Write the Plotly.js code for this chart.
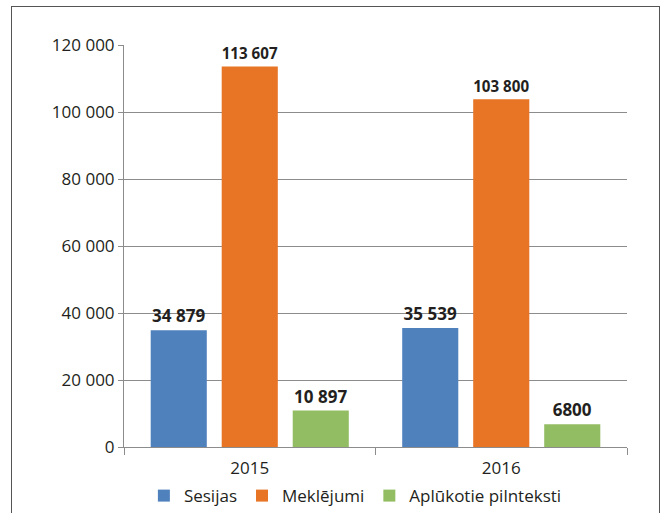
<!DOCTYPE html>
<html>
<head>
<meta charset="utf-8">
<script src="https://cdn.plot.ly/plotly-3.0.1.min.js"></script>
<style>
html,body{margin:0;padding:0;background:#fff;}
#wrap{position:relative;width:662px;height:513px;overflow:hidden;}
#frame{position:absolute;left:11px;top:6px;width:647px;height:540px;border:1.6px solid #555;pointer-events:none;}
#chart{position:absolute;left:0;top:0;width:662px;height:513px;}
</style>
</head>
<body>
<div id="wrap"><div id="chart"></div><div id="frame"></div></div>
<script>
const categories = ["2015", "2016"];
const seriesNames = ["Sesijas", "Meklējumi", "Aplūkotie pilnteksti"];
const sesijas = [34879, 35539];
const meklejumi = [113607, 103800];
const pilnteksti = [10897, 6800];
const sesijasLabels = ["34 879", "35 539"];
const meklejumiLabels = ["113 607", "103 800"];
const pilntekstiLabels = ["10 897", "6800"];
const colors = ["#4f81bd", "#e87425", "#93bd63"];

const txtFont = {family: "Open Sans, sans-serif", size: 17, color: "#231f20"};
function bar(name, y, text, color) {
  return {
    type: "bar", name: name, x: categories, y: y, text: text,
    textposition: "outside", textfont: txtFont, cliponaxis: false,
    marker: {color: color, line: {width: 0}},
    hoverinfo: "none", texttemplate: "<b>%{text}</b>"
  };
}
const data = [
  bar(seriesNames[0], sesijas, sesijasLabels, colors[0]),
  bar(seriesNames[1], meklejumi, meklejumiLabels, colors[1]),
  bar(seriesNames[2], pilnteksti, pilntekstiLabels, colors[2])
];
const layout = {
  width: 662, height: 513,
  margin: {l: 124, r: 35, t: 45, b: 66, autoexpand: false},
  paper_bgcolor: "#fff", plot_bgcolor: "#fff",
  font: {family: "Open Sans, sans-serif", size: 17, color: "#231f20"},
  separators: ". ",
  barmode: "group", bargap: 0.153, bargroupgap: 0.21,
  showlegend: true,
  legend: {orientation: "h", x: 0.46, xanchor: "center", y: -0.122, yanchor: "middle",
           font: {size: 17}, itemwidth: 30, traceorder: "normal", tracegroupgap: 0},
  xaxis: {
    type: "category", showline: true, linecolor: "#8c8c8c", linewidth: 1,
    ticks: "outside", tickson: "boundaries", ticklen: 7, tickcolor: "#8c8c8c",
    showgrid: false, tickfont: {size: 17}, ticklabelstandoff: 6
  },
  yaxis: {
    range: [0, 120000], dtick: 20000, tickformat: ",d",
    showline: true, linecolor: "#8c8c8c", linewidth: 1,
    ticks: "outside", ticklen: 5, tickcolor: "#8c8c8c",
    gridcolor: "#8c8c8c", gridwidth: 1, zeroline: false, tickfont: {size: 17}
  }
};
Plotly.newPlot("chart", data, layout, {staticPlot: true});
</script>
</body>
</html>
